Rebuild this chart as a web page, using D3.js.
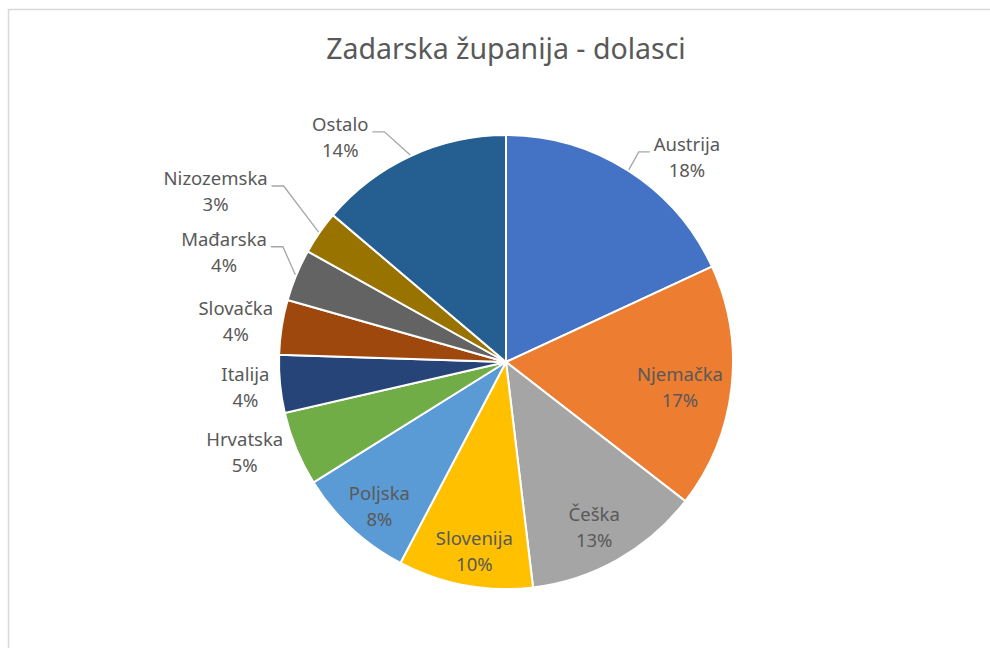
<!DOCTYPE html>
<html>
<head>
<meta charset="utf-8">
<script src="https://cdn.jsdelivr.net/npm/d3@7"></script>
<style>
  body { margin: 0; background: #fff; }
  text { font-family: "Noto Sans", "Open Sans", sans-serif; fill: #595959; }
</style>
</head>
<body>
<div id="app"></div>
<script>
// data (share of arrivals, %)
const categories = ["Austrija", "Njemačka", "Češka", "Slovenija", "Poljska", "Hrvatska",
  "Italija", "Slovačka", "Mađarska", "Nizozemska", "Ostalo"];
const shares = [18.1, 17.4, 12.6, 9.6, 8.4, 5.3, 4.1, 3.9, 3.7, 3.1, 13.8];
const sliceColors = ["#4472C4", "#ED7D31", "#A5A5A5", "#FFC000", "#5B9BD5", "#70AD47",
  "#264478", "#9E480E", "#636363", "#997300", "#255E91"];

// label placement: [angle deg from 12 o'clock, distance from centre, leader line?]
const labelSpots = [
  [41.7, 272, true], [98.8, 176, false], [152.2, 189, false], [189.4, 194, false],
  [221, 193, false], [250.6, 277, false], [264.1, 262, false], [278.2, 273, false],
  [291, 302, true], [300.2, 336, true], [323.4, 278, true]
];

const width = 990, height = 648;
const cx = 506, cy = 362, radius = 227;

const svg = d3.select("#app")
  .append("svg")
  .attr("width", width)
  .attr("height", height);

// chart frame
svg.append("rect")
  .attr("x", 8.5)
  .attr("y", 9.5)
  .attr("width", 1000)
  .attr("height", 700)
  .style("fill", "#fff")
  .style("stroke", "#d9d9d9")
  .style("stroke-width", 1.5);

svg.append("text")
  .attr("x", 506)
  .attr("y", 59)
  .attr("text-anchor", "middle")
  .style("font-size", "28.5px")
  .text("Zadarska županija - dolasci");

const g = svg.append("g")
  .attr("transform", `translate(${cx},${cy})`);

const pie = d3.pie().sort(null).value(d => d);
const arcs = pie(shares);
const arc = d3.arc().innerRadius(0).outerRadius(radius);

g.selectAll("path.slice")
  .data(arcs)
  .join("path")
  .attr("class", "slice")
  .attr("d", arc)
  .style("fill", (d, i) => sliceColors[i])
  .style("stroke", "#fff")
  .style("stroke-width", 2);

const fmt = v => Math.round(v) + "%";

const labels = g.selectAll("g.label")
  .data(arcs)
  .join("g")
  .attr("class", "label")
  .attr("transform", (d, i) => {
    const [x, y] = d3.pointRadial(labelSpots[i][0] * Math.PI / 180, labelSpots[i][1]);
    return `translate(${x},${y - 1})`;
  });

labels.append("text")
  .attr("text-anchor", "middle")
  .attr("y", -7)
  .style("font-size", "18.5px")
  .text((d, i) => categories[i]);

labels.append("text")
  .attr("text-anchor", "middle")
  .attr("y", 19)
  .style("font-size", "18.5px")
  .text(d => fmt(d.value));

// leader lines for labels pushed away from their slice
labels.each(function (d, i) {
  if (!labelSpots[i][2]) return;
  const box = this.getBBox();
  const [lx, ly] = d3.pointRadial(labelSpots[i][0] * Math.PI / 180, labelSpots[i][1]);
  const [ax, ay] = d3.pointRadial((d.startAngle + d.endAngle) / 2, radius + 1);
  const yLine = ly - 7;
  let x1, x2;
  if (lx < 0) {
    x1 = lx + box.x + box.width + 4;
    x2 = x1 + 12;
  } else {
    x1 = lx + box.x - 4;
    x2 = x1 - 11;
  }
  g.append("polyline")
    .attr("points", `${x1},${yLine} ${x2},${yLine} ${ax},${ay}`)
    .style("fill", "none")
    .style("stroke", "#a6a6a6")
    .style("stroke-width", 1.3);
});
</script>
</body>
</html>
